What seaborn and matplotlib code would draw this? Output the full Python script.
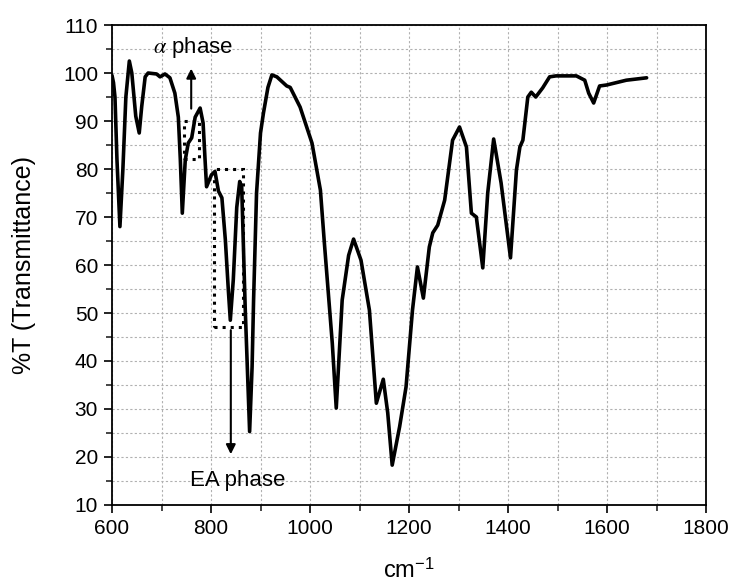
import matplotlib
matplotlib.use('Agg')
import matplotlib.pyplot as plt
from matplotlib.patches import Rectangle
from matplotlib.ticker import MultipleLocator
import seaborn as sns
import pandas as pd

# FTIR spectrum (wavenumber, %T)
wavenumber = [600, 603, 606, 610, 616, 622, 628, 635, 640, 648, 655, 660, 667, 673,
              690, 697, 707, 717, 727, 734, 738, 742, 748, 754, 761, 768, 778, 784,
              788, 791, 801, 808, 815, 822, 829, 835, 839, 845, 852, 858, 862, 869,
              878, 883, 886, 892, 900, 906, 915, 923, 933, 953, 960, 980, 1004, 1021,
              1029, 1045, 1053, 1065, 1078, 1088, 1103, 1120, 1134, 1148, 1157, 1166,
              1181, 1194, 1207, 1217, 1229, 1241, 1248, 1258, 1272, 1288, 1302, 1316,
              1326, 1336, 1349, 1359, 1371, 1386, 1405, 1417, 1424, 1430, 1440, 1447,
              1456, 1470, 1484, 1497, 1538, 1555, 1563, 1573, 1585, 1599, 1639, 1680]
transmittance = [99.5, 98, 95, 82, 68, 80, 95, 102.5, 100, 91, 87.5, 93, 99.2, 100,
                 99.8, 99.2, 99.8, 99, 95.8, 90.8, 82, 70.8, 81.9, 85.4, 86.5, 90.8, 92.7, 89.6,
                 81.9, 76.3, 78.8, 79.5, 75.4, 74, 65.2, 54.8, 48.5, 56.9, 72, 77.4, 76.3, 51.3,
                 25.3, 38.8, 52.7, 75, 87.5, 91.7, 97, 99.6, 99.2, 97.3, 97, 92.9, 85.4, 75.6,
                 64.6, 43.7, 30.2, 52.7, 62, 65.4, 61, 50.6, 31.2, 36.2, 29.2, 18.3,
                 26.3, 34.6, 50.6, 59.6, 53.1, 63.75, 66.7, 68.3, 73.5, 86, 88.75, 84.6,
                 70.8, 70, 59.4, 75, 86.25, 77.1, 61.5, 79.8, 84.6, 86, 95, 96,
                 95, 96.9, 99.2, 99.4, 99.4, 98.5, 95.8, 93.75, 97.3, 97.5, 98.5, 99]

df = pd.DataFrame({'wavenumber': wavenumber, 'T': transmittance})

sns.set_theme(style="ticks")
plt.rcParams['font.family'] = ['Liberation Sans', 'DejaVu Sans']
plt.rcParams['mathtext.fontset'] = 'stix'
plt.rcParams['text.color'] = 'black'
plt.rcParams['axes.labelcolor'] = 'black'

fig = plt.figure(figsize=(7.33, 5.83), dpi=100)
ax = fig.add_axes([0.1528, 0.1338, 0.8104, 0.8233])

sns.lineplot(x='wavenumber', y='T', data=df, sort=False, color='black',
             linewidth=2.6, ax=ax)

ax.set_xlim(600, 1800)
ax.set_ylim(10, 110)
ax.xaxis.set_major_locator(MultipleLocator(200))
ax.xaxis.set_minor_locator(MultipleLocator(100))
ax.yaxis.set_major_locator(MultipleLocator(10))
ax.yaxis.set_minor_locator(MultipleLocator(5))
ax.grid(which='both', linestyle=(0, (2, 2)), color='#b0b0b0', linewidth=0.8)
ax.set_axisbelow(True)
ax.tick_params(which='major', direction='out', length=6, width=1.2, labelsize=15,
               colors='black', pad=4)
ax.tick_params(which='minor', direction='out', length=4, width=1.2)
for s in ax.spines.values():
    s.set_linewidth(1.3)
    s.set_color('black')

ax.set_xlabel('cm$^{\\mathregular{-1}}$', fontsize=17)
ax.set_ylabel('%T (Transmittance)', fontsize=18)
ax.xaxis.set_label_coords(0.5, -0.11)
ax.yaxis.set_label_coords(-0.128, 0.5)

# alpha phase box + arrow
ax.add_patch(Rectangle((746, 82), 30, 8, fill=False, linestyle=':', linewidth=2.2,
                       edgecolor='black'))
ax.annotate('', xy=(760, 101.5), xytext=(760, 92),
            arrowprops=dict(arrowstyle='-|>', color='black', lw=1.5, mutation_scale=14))
ax.text(763, 105.4, r'$\alpha$ phase', fontsize=16, ha='center', va='center')

# EA phase box + arrow
ax.add_patch(Rectangle((806, 47), 59, 33, fill=False, linestyle=':', linewidth=2.2,
                       edgecolor='black'))
ax.annotate('', xy=(840, 20), xytext=(840, 47),
            arrowprops=dict(arrowstyle='-|>', color='black', lw=1.5, mutation_scale=14))
ax.text(758, 15.2, 'EA phase', fontsize=16, ha='left', va='center')

fig.savefig('out.png', dpi=100)
